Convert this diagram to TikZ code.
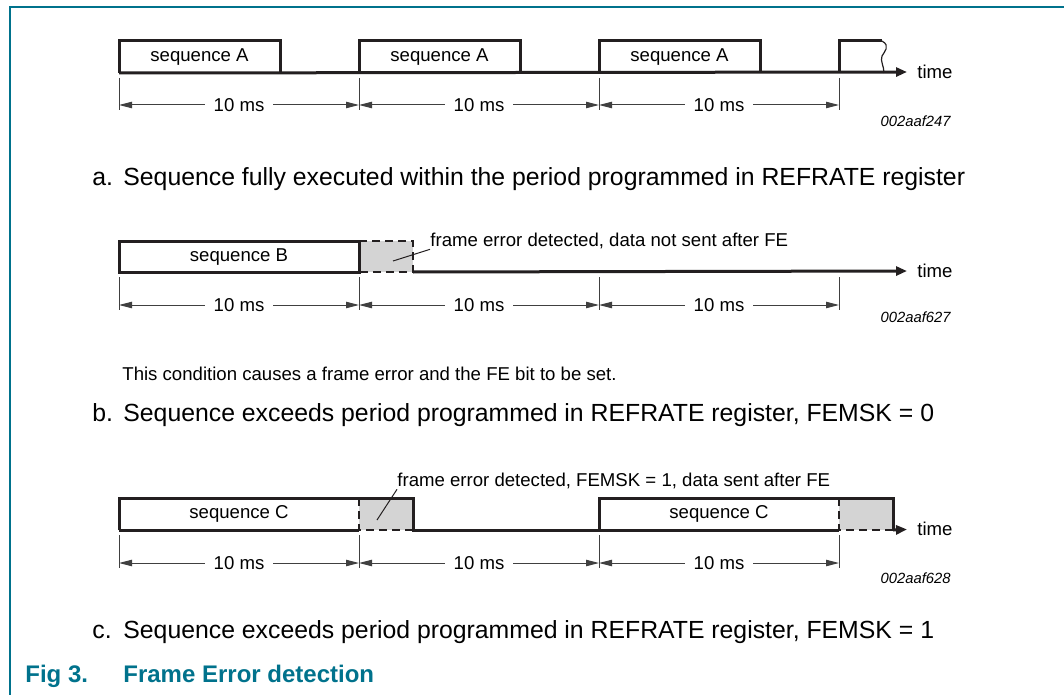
\documentclass[tikz,border=0pt]{standalone}
\usepackage{fontspec}
\setmainfont{Liberation Sans}
\usetikzlibrary{arrows.meta}
\definecolor{figteal}{RGB}{0,114,140}
\definecolor{errgray}{RGB}{212,212,212}
\definecolor{sigline}{RGB}{35,31,32}
\begin{document}
\begin{tikzpicture}[x=0.5pt,y=-0.5pt]
      \tikzstyle{sig}=[line width=1.5pt,draw=sigline]
      \tikzstyle{errdash}=[line width=1.3pt,draw=sigline,dash pattern=on 4pt off 2.5pt]
      \tikzstyle{timeax}=[sig,-{Triangle[length=5.5pt,width=4.5pt]},shorten >=5pt]
      \tikzstyle{ext}=[draw=black!75,line width=0.5pt]
      \tikzstyle{dim}=[ext,{Triangle[length=6.5pt,width=3.2pt]}-{Triangle[length=6.5pt,width=3.2pt]}]
      \tikzstyle{lead}=[draw=sigline,line width=0.5pt]
      \tikzstyle{lbl}=[font=\fontsize{9.3}{11}\selectfont,inner sep=0pt]
      \tikzstyle{msl}=[lbl,fill=white,inner xsep=4.5pt,inner ysep=1pt]
      \tikzstyle{figid}=[font=\fontsize{7.4}{9}\selectfont\itshape,inner sep=0pt,anchor=east]
      \tikzstyle{subcap}=[font=\fontsize{12.4}{14}\selectfont,inner sep=0pt,anchor=base west]
      \tikzstyle{figtitle}=[font=\fontsize{12}{14}\selectfont\bfseries,text=figteal,inner sep=0pt,anchor=base west]

      \useasboundingbox (0,0) rectangle (1064,695);
      \draw[figteal,line width=1pt] (1064,7) -- (10,7) -- (10,695);

      % a
      \foreach \i/\x in {0/119,1/359,2/599,3/839} {
        \coordinate (a\i) at (\x,73);
        \coordinate (ad\i) at (\x,105);
        \draw[ext] (\x,78) -- (\x,110);
      }
      \node[lbl,anchor=west] (timeA) at (917,72) {time};
      \draw[timeax] (a0) -- (timeA.west);
      \draw[sig] (a0) |- (280,41) -- (280,73);
      \draw[sig] (a1) |- (520,41) -- (520,73);
      \draw[sig] (a2) |- (760,41) -- (760,73);
      \draw[sig] (a3) |- (882,41);
      \draw[lead,line width=0.6pt] (882,41) .. controls (891,46) and (884,52) .. (882,56)
        .. controls (880,61) and (884,66) .. (884,73);
      \node[lbl] (seqA1) at (199.5,57) {sequence A};
      \node[lbl] (seqA2) at (439.5,57) {sequence A};
      \node[lbl] (seqA3) at (679.5,57) {sequence A};
      \foreach \i/\j in {0/1,1/2,2/3}
        \draw[dim] (ad\i) -- node[msl] (ma\j) {10 ms} (ad\j);
      \node[figid] (idA) at (951,121) {002aaf247};
      \node[subcap] (capAl) at (92,185) {a.};
      \node[subcap] (capA) at (123,185) {Sequence fully executed within the period programmed in REFRATE register};

      % b
      \foreach \i/\x in {0/119,1/359,2/599,3/839} {
        \coordinate (b\i) at (\x,272);
        \coordinate (bd\i) at (\x,305);
        \draw[ext] (\x,277) -- (\x,310);
      }
      \fill[errgray] (359,241) rectangle (413,272);
      \draw[sig] (b0) |- (359,241) -- (b1) -- cycle;
      \draw[errdash] (359,241) -- (413,241) -- (413,272) -- (b1);
      \node[lbl,anchor=west] (timeB) at (917,271) {time};
      \draw[timeax] (413,272) -- (timeB.west);
      \node[lbl] (seqB) at (239,257) {sequence B};
      \node[lbl,anchor=west] (errB) at (430,241) {frame error detected, data not sent after FE};
      \coordinate (errBpt) at (393,261);
      \draw[lead] (errBpt) -- (errB.south west);
      \foreach \i/\j in {0/1,1/2,2/3}
        \draw[dim] (bd\i) -- node[msl] (mb\j) {10 ms} (bd\j);
      \node[figid] (idB) at (951,317) {002aaf627};
      \node[lbl,anchor=west] (noteB) at (122,374) {This condition causes a frame error and the FE bit to be set.};
      \node[subcap] (capBl) at (92,421) {b.};
      \node[subcap] (capB) at (123,421) {Sequence exceeds period programmed in REFRATE register, FEMSK = 0};

      % c
      \foreach \i/\x in {0/119,1/359,2/599,3/839} {
        \coordinate (c\i) at (\x,530);
        \coordinate (cd\i) at (\x,563);
        \draw[ext] (\x,535) -- (\x,568);
      }
      \fill[errgray] (359,498) rectangle (413,530);
      \fill[errgray] (839,498) rectangle (893,530);
      \draw[sig] (c0) |- (413,498) -- (413,530) -- (c2) |- (893,498) -- (893,530);
      \draw[sig] (c0) -- (c1);
      \draw[sig] (c2) -- (c3);
      \draw[errdash] (359,498) -- (c1) -- (413,530);
      \draw[errdash] (839,498) -- (c3) -- (893,530);
      \node[lbl,anchor=west] (timeC) at (917,529) {time};
      \draw[timeax] (893,530) -- (timeC.west);
      \node[lbl] (seqC1) at (239,514) {sequence C};
      \node[lbl] (seqC2) at (719,514) {sequence C};
      \node[lbl,anchor=west] (errC) at (397,481) {frame error detected, FEMSK = 1, data sent after FE};
      \coordinate (errCpt) at (377,520);
      \draw[lead] (errCpt) -- (errC.south west);
      \foreach \i/\j in {0/1,1/2,2/3}
        \draw[dim] (cd\i) -- node[msl] (mc\j) {10 ms} (cd\j);
      \node[figid] (idC) at (951,578) {002aaf628};
      \node[subcap] (capCl) at (92,638) {c.};
      \node[subcap] (capC) at (123,638) {Sequence exceeds period programmed in REFRATE register, FEMSK = 1};

      \node[figtitle] (fignum) at (25,682) {Fig 3.};
      \node[figtitle] (figname) at (123,682) {Frame Error detection};
\end{tikzpicture}
\end{document}
